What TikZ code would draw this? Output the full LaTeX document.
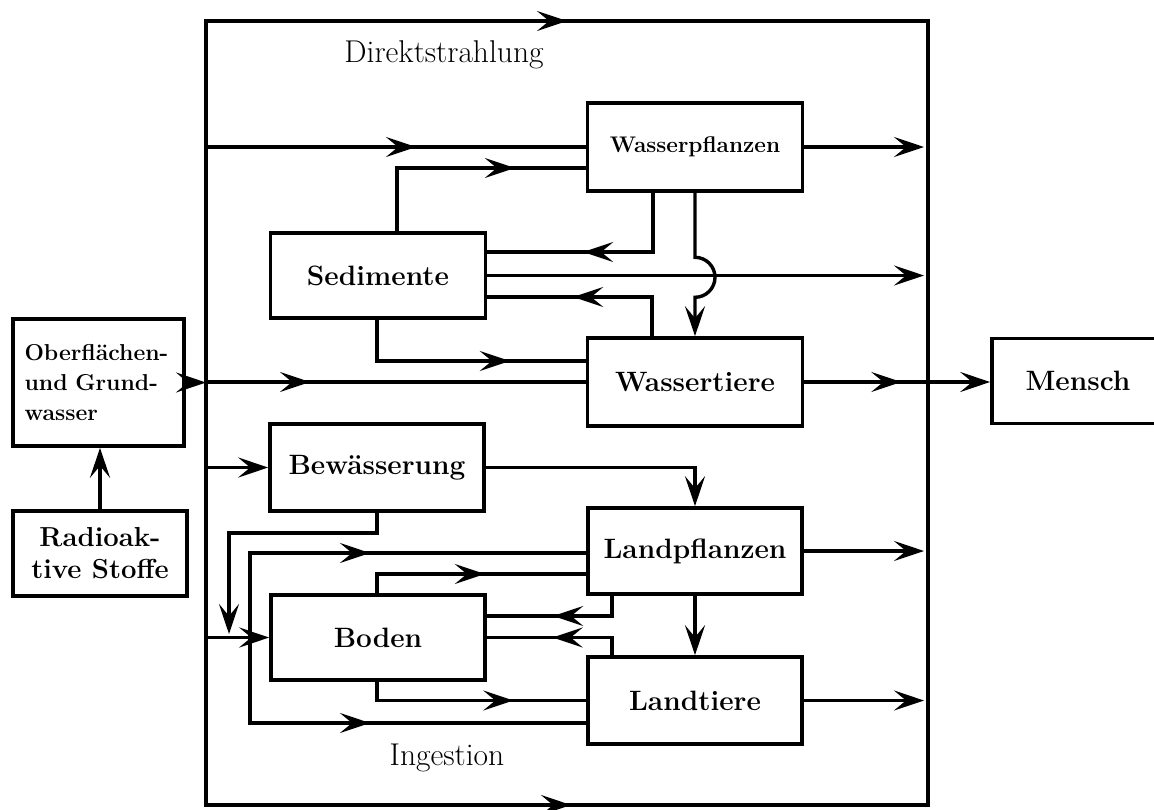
\documentclass[tikz,border=0pt]{standalone}
\usepackage{fontspec}
\usetikzlibrary{arrows.meta,decorations.markings,calc}

\tikzset{
  box/.style={draw, line width=3.6pt, inner sep=0pt, align=center,
              font=\bfseries\fontsize{28}{32}\selectfont},
  wire/.style={line width=3.4pt},
  tip/.style={-{Stealth[length=30pt,width=20pt,inset=12pt]}},
  mid/.style={postaction={decorate},
              decoration={markings, mark=at position #1 with
                {\arrow{Stealth[length=30pt,width=20pt,inset=12pt]}}}},
  caption/.style={font=\fontsize{31.5}{34}\selectfont, inner sep=0pt},
}

\begin{document}
\begin{tikzpicture}[x=1pt, y=-1pt, line join=miter]
\useasboundingbox (0,0) rectangle (1154,809);

% --- frame of direct radiation / ingestion paths
\coordinate (ftl) at (206,21);
\coordinate (ftr) at (928,21);
\coordinate (fbl) at (206,805);
\coordinate (fbr) at (928,805);
\coordinate (fl) at (206,0);
\coordinate (fr) at (928,0);

% --- boxes
\node[box, minimum width=171pt, minimum height=127pt, text width=148pt, align=left,
      font=\bfseries\fontsize{23}{30}\selectfont]
      (ober) at (98.5,382.5) {Oberflächen-\\und Grund-\\wasser};
\node[box, minimum width=174pt, minimum height=85pt, font=\bfseries\fontsize{27.5}{32}\selectfont]
      (radio) at (100,553.5) {Radioak-\\tive Stoffe};

\node[box, minimum width=215pt, minimum height=88pt, font=\bfseries\fontsize{22.6}{26}\selectfont]
      (wpfl) at (695,147) {Wasserpflanzen};
\node[box, minimum width=215pt, minimum height=85pt] (sed) at (378,275.5) {Sedimente};
\node[box, minimum width=215pt, minimum height=88pt] (wtier) at (695,382) {Wassertiere};
\node[box, minimum width=172pt, minimum height=85pt] (mensch) at (1078,381) {Mensch};
\node[box, minimum width=214pt, minimum height=87pt] (bew) at (377,467.5) {Bewässerung};
\node[box, minimum width=214pt, minimum height=86pt] (lpfl) at (695,551) {Landpflanzen};
\node[box, minimum width=214pt, minimum height=85pt] (boden) at (378,637.5) {Boden};
\node[box, minimum width=214pt, minimum height=87pt] (landt) at (695,700.5) {Landtiere};

% --- captions
\node[caption] (direkt) at (444,55) {Direktstrahlung};
\node[caption] (ingest) at (447,758) {Ingestion};

% --- frame lines
\draw[wire, line cap=rect, mid=1145pt] (fbl) -- (ftl) -- (ftr) -- (fbr);
\draw[wire, line cap=rect, mid=365pt] (fbl) -- (fbr);

% --- sources
\draw[wire, tip] (radio.north) -- (radio.north |- ober.south);
\draw[wire, tip] (ober.east) -- (ober.east -| fl);

% --- water paths
\draw[wire, mid=210pt] (wpfl.west -| fl) -- (wpfl.west);
\draw[wire, mid=181pt] ([xshift=19pt]sed.north) |- ([yshift=-21pt]wpfl.west);
\draw[wire, tip, shorten >=4pt] (wpfl.east) -- (wpfl.east -| fr);
\draw[wire, mid=129pt] ([xshift=-42pt]wpfl.south) |- ([yshift=23.5pt]sed.east);
\draw[wire, tip] (wpfl.south) -- ++(0,64.5) arc[start angle=90, end angle=-90, radius=20pt] -- (wtier.north);
\draw[wire, tip, shorten >=4pt] (sed.east) -- (sed.east -| fr);
\draw[wire, mid=118pt] ([xshift=-43pt]wtier.north) |- ([yshift=-21.5pt]sed.east);
\draw[wire, mid=174pt] ([xshift=-1pt]sed.south) |- ([yshift=21pt]wtier.west);
\draw[wire, mid=104pt] (wtier.west -| fl) -- (wtier.west);
\draw[wire, tip, mid=97pt] (wtier.east) -- (wtier.east -| mensch.west);

% --- land paths
\coordinate (irrend) at (229,634);
\coordinate (busT) at (250,553);
\coordinate (busB) at (250,723);
\draw[wire, tip] (bew.west -| fl) -- (bew.west);
\draw[wire, tip] (bew.east) -| (lpfl.north);
\draw[wire, tip] (bew.south) -- ++(0,20) -| (irrend);
\draw[wire, tip] (boden.west -| fl) -- (boden.west);
\draw[wire, line cap=rect] (busT) -- (busB);
\draw[wire, mid=120pt] (busT) -- (busT -| lpfl.west);
\draw[wire, mid=120pt] (busB) -- (busB -| landt.west);
\draw[wire, mid=127pt] ([xshift=-1pt]boden.north) |- ([yshift=-23pt]lpfl.west);
\draw[wire, mid=79pt] ([xshift=-83pt]lpfl.south) |- ([yshift=21.5pt]boden.east);
\draw[wire, tip] (lpfl.south) -- (landt.north);
\draw[wire, mid=77pt] ([xshift=-83pt]landt.north) |- (boden.east);
\draw[wire, mid=155pt] ([xshift=-1pt]boden.south) |- (landt.west);
\draw[wire, tip, shorten >=4pt] (lpfl.east) -- (lpfl.east -| fr);
\draw[wire, tip, shorten >=4pt] (landt.east) -- (landt.east -| fr);
\end{tikzpicture}
\end{document}
